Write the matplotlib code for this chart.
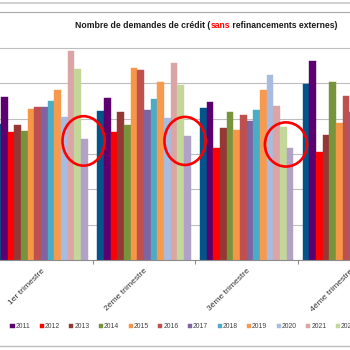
import matplotlib
matplotlib.use("Agg")
import matplotlib.pyplot as plt
from matplotlib.patches import Ellipse
from matplotlib.lines import Line2D
import numpy as np

plt.rcParams['font.family'] = ['Liberation Sans', 'DejaVu Sans']

categories = ["1er trimestre", "2ème trimestre", "3ème trimestre", "4ème trimestre"]
years = ["2010", "2011", "2012", "2013", "2014", "2015", "2016", "2017",
         "2018", "2019", "2020", "2021", "2022", "2023"]

v2010 = [384, 421, 431, 497]
v2011 = [461, 458, 447, 562]
v2012 = [363, 363, 316, 307]
v2013 = [382, 420, 374, 354]
v2014 = [365, 382, 418, 504]
v2015 = [427, 543, 369, 389]
v2016 = [432, 538, 410, 465]
v2017 = [434, 424, 393, 420]
v2018 = [451, 457, 425, 440]
v2019 = [481, 504, 481, 470]
v2020 = [405, 401, 524, 430]
v2021 = [591, 558, 435, 480]
v2022 = [540, 496, 376, 450]
v2023 = [342, 352, 318, 330]

series = [v2010, v2011, v2012, v2013, v2014, v2015, v2016, v2017,
          v2018, v2019, v2020, v2021, v2022, v2023]

colors = ['#02548A', '#5B006E', '#FF0000', '#953735', '#77933C', '#F79646',
          '#C0504D', '#8064A2', '#4BACC6', '#F79A4E', '#A7BCE0', '#DBA5A5',
          '#C4D79B', '#B3A2C7']

W, H = 350, 350
fig = plt.figure(figsize=(3.5, 3.5), dpi=100)
ymax = 602
ax = fig.add_axes([-10.25 / W, 90 / H, 411 / W, 212 * ymax / 600 / H])

x = np.arange(len(categories))
bw = 0.0649
for j, (vals, c) in enumerate(zip(series, colors)):
    ax.bar(x + (j - 6.5) * bw, vals, width=bw, color=c, label=years[j],
           edgecolor=c, linewidth=0.3, zorder=2)

ax.set_xlim(-0.5, 3.5)
ax.set_ylim(0, ymax)
ax.set_yticks(np.arange(0, 601, 100))
ax.yaxis.grid(True, color='#BEBEBE', linewidth=0.8, zorder=0)
ax.set_axisbelow(True)
ax.tick_params(axis='y', length=0, labelleft=False)
for s in ['top', 'right', 'left']:
    ax.spines[s].set_visible(False)
ax.spines['bottom'].set_color('#8C8C8C')
ax.spines['bottom'].set_linewidth(0.8)

ax.set_xticks(x)
ax.set_xticklabels(categories, rotation=45, ha='right', rotation_mode='anchor',
                   fontsize=6.1, color='#303030')
ax.tick_params(axis='x', which='major', length=0, pad=5.5)
ax.set_xticks(np.arange(-0.5, 4.0, 1.0), minor=True)
ax.tick_params(axis='x', which='minor', length=3, color='#8C8C8C', width=0.8)

# red circles
for cx, cy, ew, eh in [(0.413, 337, 0.41, 140), (1.40, 337, 0.40, 136), (2.383, 327, 0.41, 125)]:
    ax.add_patch(Ellipse((cx, cy), ew, eh, fill=False, edgecolor='#FF0000',
                         linewidth=1.9, zorder=5))

# legend
leg = ax.legend(ncol=14, loc='center left', bbox_to_anchor=(-19.2 / W, (350 - 326.7) / H),
                bbox_transform=fig.transFigure, frameon=False, fontsize=4.9,
                handlelength=0.6, handleheight=0.6, handletextpad=0.15,
                columnspacing=1.38, borderpad=0, borderaxespad=0)
for t in leg.get_texts():
    t.set_color('#404040')

# title
ty = 1 - 25 / H
t1 = fig.text(75 / W, ty, "Nombre de demandes de crédit (", fontsize=6.25,
              fontweight='bold', va='center', ha='left', color='#1A1A1A')
t2 = ax.annotate("sans", xy=(1, 0), xycoords=t1, va='bottom', ha='left',
                 fontsize=6.25, fontweight='bold', color='#FF0000')
t3 = ax.annotate(" refinancements externes)", xy=(1, 0), xycoords=t2, va='bottom',
                 ha='left', fontsize=6.25, fontweight='bold', color='#1A1A1A')

# frame lines of the sheet
for yy, c, lw in [(3.3, '#C8C8C8', 1.2), (12, '#A8A8A8', 0.8), (346, '#BDBDBD', 1.0)]:
    fig.add_artist(Line2D([0, 1], [1 - yy / H, 1 - yy / H], transform=fig.transFigure,
                          color=c, linewidth=lw))

fig.savefig("out.png", dpi=100)
